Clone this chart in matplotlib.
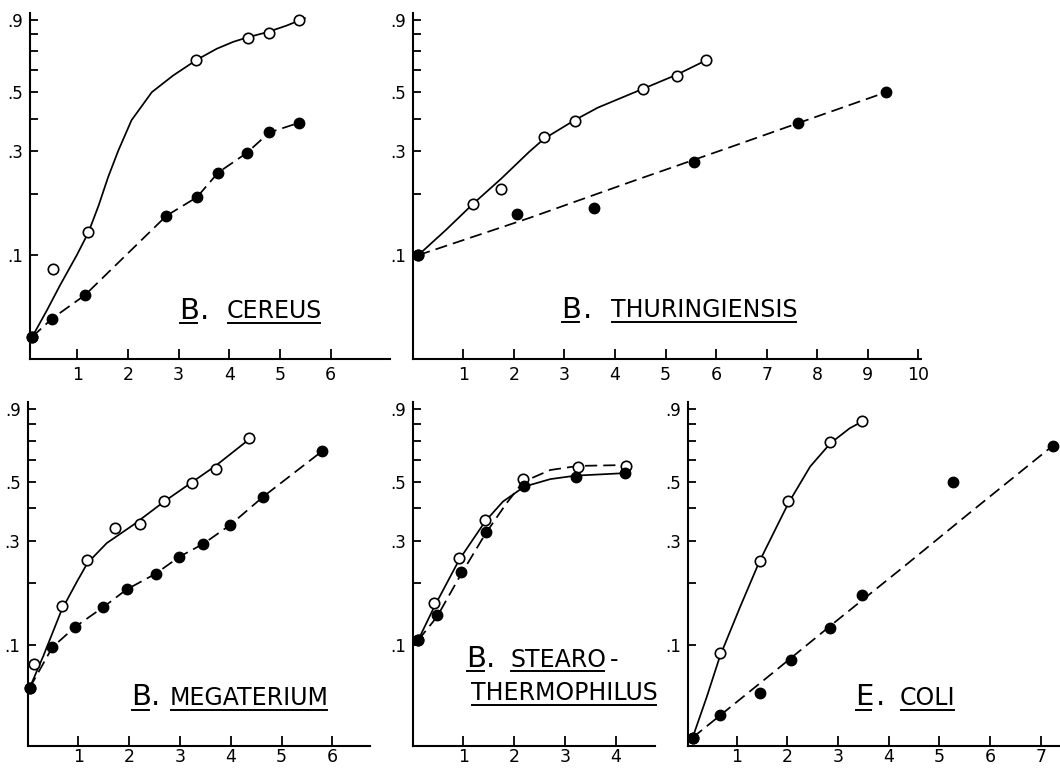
import numpy as np
import matplotlib
matplotlib.use("Agg")
import matplotlib.pyplot as plt
from matplotlib.lines import Line2D

# ---- data (x in hours-like units, y fraction) ----
# B. cereus
cer_open_x = [0.11, 0.53, 1.22, 3.35, 4.37, 4.79, 5.38]
cer_open_y = [0.020, 0.083, 0.132, 0.654, 0.776, 0.812, 0.90]
cer_fill_x = [0.11, 0.50, 1.15, 2.76, 3.36, 3.78, 4.34, 4.79, 5.37]
cer_fill_y = [0.020, 0.034, 0.055, 0.159, 0.193, 0.246, 0.295, 0.355, 0.386]
cer_solid_x = [0.11, 0.40, 0.66, 0.99, 1.22, 1.42, 1.61, 1.81, 2.07, 2.47,
               2.89, 3.36, 3.75, 4.08, 4.37, 4.74, 5.13, 5.49]
cer_solid_y = [0.020, 0.041, 0.065, 0.100, 0.132, 0.177, 0.236, 0.302, 0.395, 0.501,
               0.575, 0.654, 0.714, 0.755, 0.783, 0.814, 0.858, 0.91]
cer_dash_x = cer_fill_x
cer_dash_y = cer_fill_y

# B. thuringiensis
thu_open_x = [0.11, 1.19, 1.75, 2.60, 3.20, 4.56, 5.23, 5.79]
thu_open_y = [0.100, 0.180, 0.210, 0.341, 0.391, 0.514, 0.574, 0.651]
thu_fill_x = [0.11, 2.07, 3.59, 5.57, 7.61, 9.36]
thu_fill_y = [0.100, 0.162, 0.172, 0.272, 0.384, 0.501]
thu_solid_x = [0.11, 0.66, 1.19, 1.75, 2.30, 2.60, 3.20, 3.66, 4.56, 5.23, 5.84]
thu_solid_y = [0.100, 0.136, 0.180, 0.232, 0.298, 0.336, 0.395, 0.440, 0.516, 0.580, 0.656]
thu_dash_x = [0.11, 2.30, 4.34, 6.39, 7.75, 9.36]
thu_dash_y = [0.100, 0.155, 0.226, 0.317, 0.393, 0.501]

# B. megaterium
meg_open_x = [0.04, 0.13, 0.67, 1.18, 1.72, 2.21, 2.69, 3.23, 3.70, 4.35]
meg_open_y = [0.052, 0.077, 0.158, 0.252, 0.338, 0.348, 0.426, 0.495, 0.557, 0.717]
meg_fill_x = [0.04, 0.49, 0.94, 1.49, 1.95, 2.52, 2.99, 3.46, 3.99, 4.64, 5.79]
meg_fill_y = [0.052, 0.097, 0.125, 0.156, 0.188, 0.220, 0.259, 0.292, 0.346, 0.442, 0.642]
meg_solid_x = [0.04, 0.31, 0.67, 0.97, 1.18, 1.56, 2.08, 2.69, 3.23, 3.70, 4.41]
meg_solid_y = [0.052, 0.086, 0.151, 0.203, 0.244, 0.294, 0.346, 0.424, 0.498, 0.571, 0.719]
meg_dash_x = meg_fill_x
meg_dash_y = meg_fill_y

# B. stearothermophilus
ste_open_x = [0.11, 0.43, 0.92, 1.43, 2.18, 3.26, 4.20]
ste_open_y = [0.106, 0.164, 0.256, 0.362, 0.512, 0.568, 0.571]
ste_fill_x = [0.11, 0.48, 0.95, 1.44, 2.20, 3.21, 4.18]
ste_fill_y = [0.106, 0.143, 0.223, 0.326, 0.484, 0.521, 0.538]
ste_solid_x = [0.11, 0.43, 0.92, 1.43, 1.78, 2.20, 2.71, 3.21, 4.18]
ste_solid_y = [0.106, 0.157, 0.252, 0.357, 0.424, 0.481, 0.512, 0.527, 0.538]
ste_dash_x = [0.11, 0.48, 0.95, 1.44, 1.85, 2.18, 2.71, 3.26, 4.20]
ste_dash_y = [0.106, 0.140, 0.218, 0.321, 0.418, 0.501, 0.552, 0.571, 0.575]

# E. coli
col_open_x = [0.13, 0.67, 1.45, 2.02, 2.85, 3.47]
col_open_y = [0.0125, 0.090, 0.250, 0.426, 0.691, 0.819]
col_fill_x = [0.13, 0.68, 1.45, 2.08, 2.85, 3.47, 5.26, 7.24]
col_fill_y = [0.0125, 0.029, 0.047, 0.081, 0.123, 0.177, 0.501, 0.673]
col_solid_x = [0.13, 0.41, 0.67, 1.07, 1.45, 1.79, 2.02, 2.45, 2.85, 3.23, 3.53]
col_solid_y = [0.0125, 0.044, 0.086, 0.157, 0.248, 0.341, 0.418, 0.568, 0.686, 0.773, 0.825]
col_dash_x = [0.13, 1.66, 2.97, 4.29, 5.60, 7.24]
col_dash_y = [0.0125, 0.065, 0.134, 0.235, 0.385, 0.673]

y_ticks = [0.1, 0.2, 0.3, 0.4, 0.5, 0.6, 0.7, 0.8, 0.9]
y_tick_labels = [".1", "", ".3", "", ".5", "", "", "", ".9"]

W, H = 1060, 770


def fwd(y):
    return np.log10(np.asarray(y, dtype=float) + 0.08)


def inv(t):
    return 10 ** np.asarray(t, dtype=float) - 0.08


plt.rcParams["font.family"] = "DejaVu Sans"
fig = plt.figure(figsize=(W / 100, H / 100), dpi=100)


def panel(left, right, top, bottom, xlim, ylim, nx, xpad):
    ax = fig.add_axes([left / W, 1 - bottom / H, (right - left) / W, (bottom - top) / H])
    ax.set_yscale("function", functions=(fwd, inv))
    ax.set_xlim(*xlim)
    ax.set_ylim(*ylim)
    ax.set_yticks(y_ticks, y_tick_labels)
    ax.set_xticks(range(1, nx + 1), [str(i) for i in range(1, nx + 1)])
    ax.yaxis.set_minor_locator(matplotlib.ticker.NullLocator())
    for s in ("top", "right"):
        ax.spines[s].set_visible(False)
    for s in ("left", "bottom"):
        ax.spines[s].set_linewidth(1.5)
    ax.tick_params(axis="y", direction="in", length=6, width=1.3, labelsize=12, pad=5)
    ax.tick_params(axis="x", direction="in", length=7.5, width=1.3, labelsize=12.5, pad=xpad)
    return ax


def draw(ax, ox, oy, fx, fy, sx, sy, dx, dy):
    ax.plot(sx, sy, "-", color="k", lw=1.25, clip_on=False)
    ax.plot(dx, dy, color="k", lw=1.25, dashes=(7, 3.5), clip_on=False)
    ax.plot(ox, oy, "o", mfc="white", mec="k", mew=1.2, ms=7.5, clip_on=False, zorder=3)
    ax.plot(fx, fy, "o", color="k", ms=7.5, clip_on=False, zorder=4)


top_ylim = (0.0053, 0.947)
bot_ylim = (0.0071, 0.950)

ax1 = panel(30, 390, 13, 359, (0.067, 7.17), top_ylim, 6, 5.3)
draw(ax1, cer_open_x, cer_open_y, cer_fill_x, cer_fill_y,
     cer_solid_x, cer_solid_y, cer_dash_x, cer_dash_y)

ax2 = panel(413, 921, 13, 359, (0.006, 10.05), top_ylim, 10, 5.3)
draw(ax2, thu_open_x, thu_open_y, thu_fill_x, thu_fill_y,
     thu_solid_x, thu_solid_y, thu_dash_x, thu_dash_y)

ax3 = panel(27.5, 370, 402, 746, (0.0, 6.74), bot_ylim, 6, 1.5)
draw(ax3, meg_open_x, meg_open_y, meg_fill_x, meg_fill_y,
     meg_solid_x, meg_solid_y, meg_dash_x, meg_dash_y)

ax4 = panel(413.3, 655, 402, 746, (0.016, 4.77), bot_ylim, 4, 1.5)
draw(ax4, ste_open_x, ste_open_y, ste_fill_x, ste_fill_y,
     ste_solid_x, ste_solid_y, ste_dash_x, ste_dash_y)

ax5 = panel(688.3, 1059, 402, 746, (0.045, 7.36), bot_ylim, 7, 1.5)
draw(ax5, col_open_x, col_open_y, col_fill_x, col_fill_y,
     col_solid_x, col_solid_y, col_dash_x, col_dash_y)

# ---- species labels (pixel positions) ----
underlined = []


def label(x, base, s, size, ul=None):
    t = fig.text(x / W, 1 - base / H, s, fontsize=size, ha="left", va="baseline")
    if ul is not None:
        underlined.append((t, ul))


big, small = 21, 17
label(179, 319, "B", big, 323)
label(200, 319, ".", big)
label(227, 318, "CEREUS", small, 323)

label(561, 318, "B", big, 322)
label(583, 318, ".", big)
label(611, 317, "THURINGIENSIS", small, 322)

label(131, 705, "B", big, 710)
label(151, 705, ".", big)
label(170, 705, "MEGATERIUM", small, 710)

label(466, 667, "B", big, 671)
label(486, 667, ".", big)
label(510, 667, "STEARO", small, 671)
label(610, 667, "-", small)
label(471, 700, "THERMOPHILUS", small, 705)

label(855, 705, "E", big, 710)
label(876, 705, ".", big)
label(900, 705, "COLI", small, 710)

fig.canvas.draw()
renderer = fig.canvas.get_renderer()
for t, ul in underlined:
    bb = t.get_window_extent(renderer)
    yy = 1 - ul / H
    fig.add_artist(Line2D([(bb.x0 + 1) / W, (bb.x1 - 2) / W], [yy, yy],
                          transform=fig.transFigure, color="k", lw=1.4))

fig.savefig("out.png", dpi=100, facecolor="white")
